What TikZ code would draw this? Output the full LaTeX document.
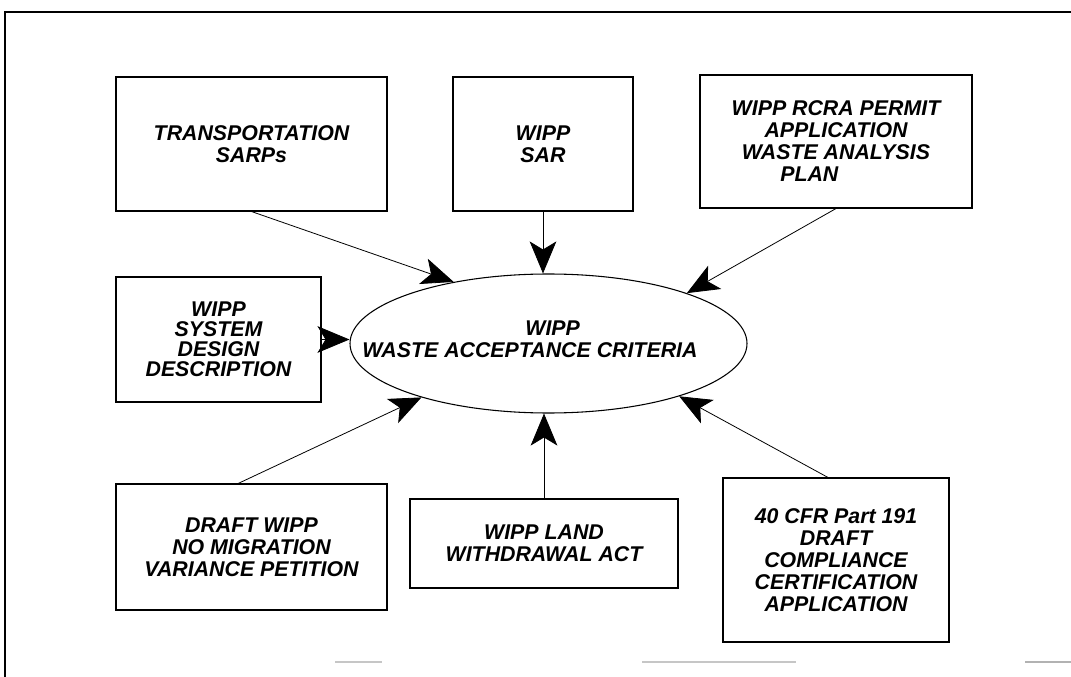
\documentclass[tikz,border=0pt]{standalone}
\usepackage{fontspec}
\setmainfont{Liberation Sans}
\usetikzlibrary{shapes.geometric,arrows.meta}

\tikzset{
  box/.style={draw, line width=0.8pt, align=center, inner sep=0pt,
    font=\bfseries\itshape\fontsize{16}{16.5}\selectfont},
  lbl/.style={align=center, inner sep=0pt,
    font=\bfseries\itshape\fontsize{16}{16.5}\selectfont},
  arr/.style={-{Stealth[length=24pt,width=20pt,inset=6pt]}, line width=0.6pt}
}

\begin{document}
\begin{tikzpicture}[x=0.75pt,y=-0.75pt]
		\useasboundingbox (0,0) rectangle (1071,677);
		\draw[line width=1.5pt] (5,677)--(5,12)--(1071,12); %Frame
		\draw[gray!45,line width=1pt] (335,662)--(382,662);
		\draw[gray!45,line width=1pt] (642,662)--(796,662);
		\draw[gray!60,line width=1.2pt] (1025,662)--(1071,662);
		% centre
		\node[ellipse,draw,line width=0.8pt,minimum width=297.75pt,minimum height=104.25pt] (wac) at (548.5,343.5) {};
		\node[lbl] (wactext) at (530,339) {\hspace*{34pt}WIPP\\WASTE ACCEPTANCE CRITERIA};
		% sources
		\node[box,minimum width=203.25pt,minimum height=100.5pt] (trans) at (251.5,144) {TRANSPORTATION\\SARPs};
		\node[box,minimum width=135pt,minimum height=100.5pt] (sar) at (543,144) {WIPP\\SAR};
		\node[box,minimum width=204pt,minimum height=99.75pt] (rcra) at (836,141.5) {WIPP RCRA PERMIT\\APPLICATION\\WASTE ANALYSIS\\PLAN\hspace*{40pt}};
		\node[box,minimum width=153.75pt,minimum height=93.75pt,font=\bfseries\itshape\fontsize{16}{15}\selectfont] (sys) at (218.5,339.5) {WIPP\\SYSTEM\\DESIGN\\DESCRIPTION};
		\node[box,minimum width=203.25pt,minimum height=94.5pt] (draft) at (251.5,547) {DRAFT WIPP\\NO MIGRATION\\VARIANCE PETITION};
		\node[box,minimum width=201pt,minimum height=66.75pt] (land) at (544,543.5) {WIPP LAND\\WITHDRAWAL ACT};
		\node[box,minimum width=169.5pt,minimum height=123pt] (cfr) at (836,560) {40 CFR Part 191\\DRAFT\\COMPLIANCE\\CERTIFICATION\\APPLICATION};
		% arrows
		\draw[arr] (trans.south)--(wac.147);
		\draw[arr] (sar.south)--(sar.south |- wac.north);
		\draw[arr] (rcra.south)--(wac.20);
		\draw[arr] (sys.east)--(sys.east -| wac.west);
		\draw[arr] ([xshift=-10pt]draft.north)--(wac.203);
		\draw[arr] (land.north)--(land.north |- wac.south);
		\draw[arr] ([xshift=-6pt]cfr.north)--(wac.338);
	\end{tikzpicture}
\end{document}
